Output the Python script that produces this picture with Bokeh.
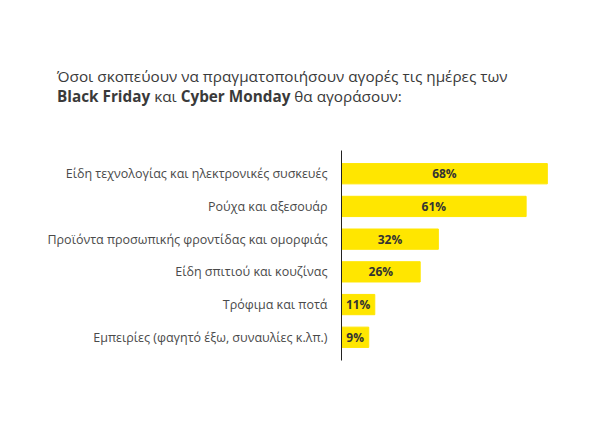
from bokeh.core.properties import value
from bokeh.embed import file_html
from bokeh.layouts import column
from bokeh.models import ColumnDataSource, Div, FactorRange, Range1d
from bokeh.plotting import figure
from bokeh.resources import INLINE

categories = [
    "Είδη τεχνολογίας και ηλεκτρονικές συσκευές",
    "Ρούχα και αξεσουάρ",
    "Προϊόντα προσωπικής φροντίδας και ομορφιάς",
    "Είδη σπιτιού και κουζίνας",
    "Τρόφιμα και ποτά",
    "Εμπειρίες (φαγητό έξω, συναυλίες κ.λπ.)",
]
shares = [68, 61, 32, 26, 11, 9]

title_line1 = "Όσοι σκοπεύουν να πραγματοποιήσουν αγορές τις ημέρες των"
title_line2 = [("Black Friday", True), ("και", False), ("Cyber Monday", True),
               ("θα αγοράσουν:", False)]

FONT = "Open Sans"
TEXT = "#3a3a3a"

src = ColumnDataSource(dict(
    cat=categories,
    share=shares,
    mid=[s / 2 for s in shares],
    label=[f"{s}%" for s in shares],
))

line2 = " ".join(f"<b>{t}</b>" if b else t for t, b in title_line2)
head = Div(
    text=f"{title_line1}<br>{line2}",
    width=583, height=108, margin=(0, 0, 0, 0),
    styles={"font-family": FONT, "font-size": "15.3px", "color": TEXT,
            "line-height": "20px", "padding-top": "66px", "padding-left": "57px",
            "white-space": "nowrap"},
)

p = figure(
    width=583, height=318,
    y_range=FactorRange(factors=categories[::-1], range_padding=0.07),
    x_range=Range1d(0, 75),
    output_backend="svg", toolbar_location=None,
    min_border_left=341, min_border_right=15, min_border_top=42, min_border_bottom=66,
)
p.hbar(y="cat", right="share", height=0.62, source=src, color="#ffe600")
p.text(x="mid", y="cat", text="label", source=src, text_align="center",
       text_baseline="middle", text_font=value(FONT), text_font_style="bold",
       text_font_size="12px", text_color="#333333")

p.xaxis.visible = False
p.grid.visible = False
p.outline_line_color = None
p.yaxis.axis_line_color = "#222222"
p.yaxis.major_tick_line_color = None
p.yaxis.minor_tick_line_color = None
p.yaxis.major_label_standoff = 8
p.yaxis.major_label_text_font = FONT
p.yaxis.major_label_text_font_size = "12.5px"
p.yaxis.major_label_text_color = "#4a4a4a"

layout = column(head, p, spacing=0)
open("out.html", "w").write(file_html(layout, INLINE))
